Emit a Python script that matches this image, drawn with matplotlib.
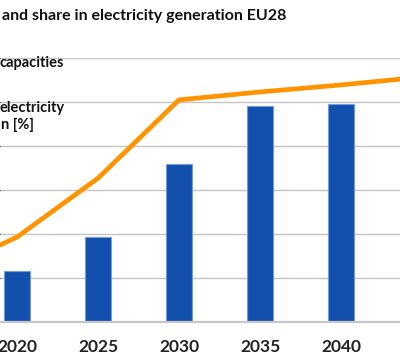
import matplotlib
matplotlib.use("Agg")
import matplotlib.pyplot as plt

# installed capacity (bars, left axis) and share in generation (line, right axis)
bar_years = [2020, 2025, 2030, 2035, 2040]
capacity = [116, 193, 359, 491, 495]

line_years = [2015, 2020, 2025, 2030, 2035, 2040, 2045]
share = [10.7, 19.3, 32.7, 50.5, 52.3, 53.9, 55.7]

tick_years = [2020, 2025, 2030, 2035, 2040]

plt.rcParams["font.family"] = ["Lato", "DejaVu Sans"]

fig = plt.figure(figsize=(4, 3.62), dpi=100)
ax = fig.add_axes([0, 0.1105, 1, 0.729])

ax.bar(bar_years, capacity, width=1.6, color="#1350ad", edgecolor="#6f9be0",
       linewidth=0.8, zorder=2)
ax.set_ylim(0, 600)
ax.set_yticks(range(0, 601, 100))
ax.yaxis.grid(True, color="#c4c4c4", linewidth=1.0, zorder=0)
ax.set_axisbelow(True)

ax.set_xlim(2018.95, 2043.64)
ax.set_xticks(tick_years)
ax.set_xticklabels([str(y) for y in tick_years], fontsize=12.5, fontweight="bold",
                   color="#222222")
ax.tick_params(axis="x", length=0, pad=12)
ax.tick_params(axis="y", left=False, labelleft=False)
for s in ["top", "left", "right"]:
    ax.spines[s].set_visible(False)
ax.spines["bottom"].set_color("#c8c8c8")
ax.spines["bottom"].set_linewidth(1.6)

ax2 = ax.twinx()
ax2.plot(line_years, share, color="#ff9400", linewidth=3.4, zorder=3,
         solid_joinstyle="miter")
ax2.set_ylim(0, 60)
ax2.axis("off")

fig.text(0.005, 0.956, "and share in electricity generation EU28", fontsize=11.5,
         fontweight="bold", va="center", ha="left", color="#111111")
fig.text(0.0, 0.826, "capacities", fontsize=10.5, fontweight="bold",
         va="center", ha="left", color="#111111")
fig.text(0.0, 0.703, "electricity", fontsize=10.5, fontweight="bold",
         va="center", ha="left", color="#111111")
fig.text(0.002, 0.655, "n [%]", fontsize=10.5, fontweight="bold",
         va="center", ha="left", color="#111111")

fig.savefig("out.png", dpi=100)
